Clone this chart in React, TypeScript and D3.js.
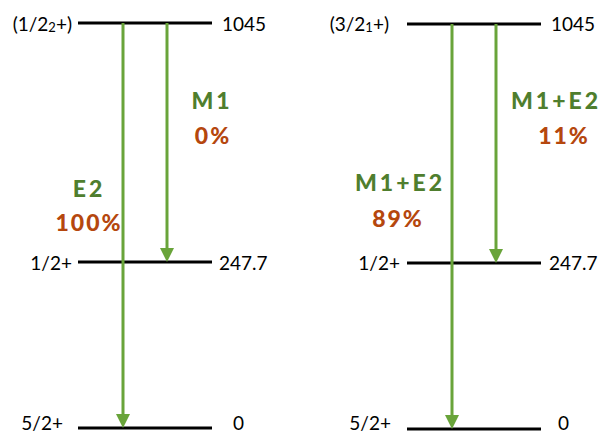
import React from "react";
import * as d3 from "d3";

// ---- data ----
const energies = [1045, 247.7, 0];
const leftSpins = ["(1/2|2|+)", "1/2+", "5/2+"];
const rightSpins = ["(3/2|1|+)", "1/2+", "5/2+"];
const energyLabels = ["1045", "247.7", "0"];

const leftTransitions = [
  { from: 1045, to: 0, type: "E2", pct: "100%" },
  { from: 1045, to: 247.7, type: "M1", pct: "0%" },
];
const rightTransitions = [
  { from: 1045, to: 0, type: "M1+E2", pct: "89%" },
  { from: 1045, to: 247.7, type: "M1+E2", pct: "11%" },
];

// ---- layout ----
const W = 601;
const H = 434;
const GREEN_ARROW = "#69a43a";
const GREEN_TEXT = "#4f7e2e";
const ORANGE = "#b5470e";
const FONT = "Lato, 'Open Sans', sans-serif";

const panels = [
  {
    spins: leftSpins,
    transitions: leftTransitions,
    x0: 78,
    dy: 0,
    spinGap: [6, 6, 15],
    energyGap: [10, 7, 21],
    labels: [
      { x: 89, y: 188, px: 89, py: 222 },
      { x: 212, y: 100, px: 213, py: 135 },
    ],
  },
  {
    spins: rightSpins,
    transitions: rightTransitions,
    x0: 407,
    dy: 1,
    spinGap: [18, 7, 16],
    energyGap: [10, 8, 17],
    labels: [
      { x: 400, y: 182, px: 398, py: 218 },
      { x: 556, y: 100, px: 564, py: 135 },
    ],
  },
];

const LINE_W = 134;
const arrowOffsets = [45, 89];
const labelShift = [0, 0, -6];

const y = d3.scaleLinear().domain([0, 247.7, 1045]).range([428, 262, 23]);

function SpinLabel({ text, x, yy }: { text: string; x: number; yy: number }) {
  const parts = text.split("|");
  return (
    <text x={x} y={yy} textAnchor="end" dominantBaseline="central" fontFamily={FONT} fontSize={19} fill="#000">
      {parts.length === 3 ? (
        <>
          <tspan>{parts[0]}</tspan>
          <tspan fontSize={13} dy={4}>{parts[1]}</tspan>
          <tspan dy={-4}>{parts[2]}</tspan>
        </>
      ) : (
        text
      )}
    </text>
  );
}

export default function App() {
  return (
    <svg width={W} height={H} style={{ position: "absolute", left: 0, top: 0 }}>
      <rect width={W} height={H} fill="#fff" />
      {panels.map((p, pi) => (
        <g key={pi}>
          {energies.map((e, i) => {
            const yy = y(e) + p.dy;
            const ty = y(e) + labelShift[i];
            return (
              <g key={i}>
                <line x1={p.x0} x2={p.x0 + LINE_W} y1={yy} y2={yy} stroke="#000" strokeWidth={3} />
                <SpinLabel text={p.spins[i]} x={p.x0 - p.spinGap[i]} yy={ty} />
                <text
                  x={p.x0 + LINE_W + p.energyGap[i]}
                  y={ty}
                  dominantBaseline="central"
                  fontFamily={FONT}
                  fontSize={19}
                  fill="#000"
                >
                  {energyLabels[i]}
                </text>
              </g>
            );
          })}
          {p.transitions.map((t, ti) => {
            const ax = p.x0 + arrowOffsets[ti];
            const y1 = y(t.from) + p.dy;
            const y2 = y(t.to) + p.dy;
            const hh = 14;
            const hw = 7;
            const lab = p.labels[ti];
            return (
              <g key={ti}>
                <line x1={ax} x2={ax} y1={y1} y2={y2 - hh + 2} stroke={GREEN_ARROW} strokeWidth={3} />
                <path
                  d={`M${ax - hw},${y2 - hh} L${ax + hw},${y2 - hh} L${ax},${y2} Z`}
                  fill={GREEN_ARROW}
                />
                <text
                  x={lab.x}
                  y={lab.y}
                  textAnchor="middle"
                  dominantBaseline="central"
                  fontFamily={FONT}
                  fontWeight={900}
                  fontSize={23}
                  letterSpacing={3}
                  fill={GREEN_TEXT}
                >
                  {t.type}
                </text>
                <text
                  x={lab.px}
                  y={lab.py}
                  textAnchor="middle"
                  dominantBaseline="central"
                  fontFamily={FONT}
                  fontWeight={900}
                  fontSize={23}
                  letterSpacing={2}
                  fill={ORANGE}
                >
                  {t.pct}
                </text>
              </g>
            );
          })}
        </g>
      ))}
    </svg>
  );
}
